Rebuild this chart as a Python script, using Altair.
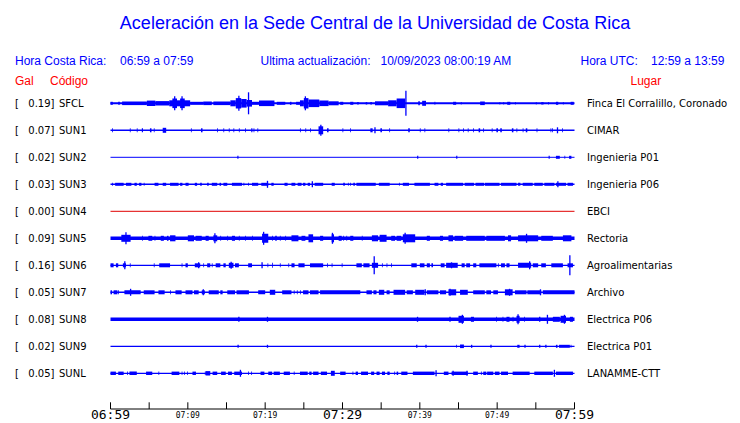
import altair as alt
import pandas as pd

TITLE = "Aceleración en la Sede Central de la Universidad de Costa Rica"
codes = ["SFCL", "SUN1", "SUN2", "SUN3", "SUN4", "SUN5", "SUN6", "SUN7", "SUN8", "SUN9", "SUNL"]
gal = ["0.19", "0.07", "0.02", "0.03", "0.00", "0.09", "0.16", "0.05", "0.08", "0.02", "0.05"]
places = ["Finca El Corralillo, Coronado", "CIMAR", "Ingenieria P01", "Ingenieria P06", "EBCI",
          "Rectoria", "Agroalimentarias", "Archivo", "Electrica P06", "Electrica P01", "LANAMME-CTT"]

# time axis (minutes after 06:59)
tick_minutes = [0, 5, 10, 15, 20, 25, 30, 35, 40, 45, 50, 55, 60]
label_minutes = [0, 10, 20, 30, 40, 50, 60]
tick_labels = ["06:59", "07:09", "07:19", "07:29", "07:39", "07:49", "07:59"]
label_big = [True, False, False, True, False, False, True]

# baseline stroke width (px) and default burst half amplitude (px) per trace
base_width = [2, 1.5, 1, 1.5, 1, 3.5, 1.3, 1.5, 3.5, 1.2, 1.3]
default_half = [2, 2, 1.5, 1.5, 0, 2.5, 2, 2, 2.5, 1.5, 1.7]

# bursts: [start_min, end_min, (half amplitude px)]
bursts = {
    "SFCL": [[0.0, 0.3, 1.5], [1.0, 1.2, 1.5], [1.5, 4.7, 1.8], [4.7, 5.8, 2.7], [5.8, 7.6, 2.2],
             [7.6, 10.3, 3.0], [8.0, 8.6, 4.8], [9.0, 9.6, 4.8], [10.3, 12.0, 1.5], [12.0, 13.1, 1.8],
             [13.3, 15.5, 1.8], [15.5, 16.2, 3.0], [16.2, 16.9, 5.2], [16.9, 17.6, 4.3], [17.6, 18.3, 3.3],
             [18.3, 19.2, 1.5], [19.2, 21.2, 2.8], [21.5, 22.6, 1.5], [23.2, 23.4, 1.5], [24.0, 24.5, 1.5],
             [24.5, 25.0, 3.0], [25.0, 25.6, 5.2], [25.6, 27.0, 3.8], [27.0, 28.2, 2.8], [28.2, 29.5, 2],
             [29.7, 30.1, 1.5], [31.0, 31.4, 1.5], [31.9, 32.1, 1.2], [33.0, 33.2, 1.2], [33.6, 33.8, 1.2],
             [34.2, 35.9, 2], [35.9, 37.0, 3.0], [37.0, 38.1, 4.8], [39.8, 40.0, 2], [40.3, 40.8, 2.5],
             [41.9, 42.0, 1.5], [44.3, 44.7, 1.5], [45.3, 45.4, 1.2], [47.8, 48.4, 1.8], [50.3, 50.4, 1.2],
             [50.8, 50.9, 1.2], [51.3, 51.7, 1.5], [52.3, 52.4, 1.2], [55.0, 55.1, 1.2], [55.7, 56.0, 1.2],
             [56.6, 56.7, 1.2], [57.6, 57.9, 1.5], [58.5, 58.6, 1.2], [59.5, 59.9, 1.5]],
    "SUN1": [[0.2, 0.3], [2.5, 2.6], [3.4, 3.5], [4.05, 4.2], [5.1, 5.3], [5.6, 5.7], [6.75, 7.2, 2.5],
             [10.4, 10.5], [11.7, 11.9], [13.8, 13.9], [14.6, 14.7], [15.3, 15.4], [15.9, 16.0], [16.6, 16.7],
             [17.4, 17.5], [18.2, 18.35], [18.5, 18.6], [19.0, 19.1], [24.5, 24.6], [25.2, 25.3], [25.8, 25.9],
             [26.9, 27.5, 4], [28.0, 28.2], [30.0, 30.1], [31.0, 31.1], [33.6, 33.9], [34.9, 35.1],
             [36.05, 36.15], [38.5, 38.7], [40.0, 40.1], [40.6, 40.7], [43.7, 43.8], [45.0, 45.1], [45.6, 45.7],
             [46.2, 46.3], [46.9, 47.0], [47.6, 47.8], [48.2, 48.3], [49.3, 49.4], [49.9, 50.1], [50.4, 50.6],
             [51.9, 52.1], [52.5, 52.6], [53.3, 53.4], [53.7, 53.9], [55.1, 55.2], [56.9, 57.0], [57.1, 57.2],
             [58.4, 58.5]],
    "SUN2": [[16.4, 16.55], [39.65, 39.8], [44.7, 44.85], [56.65, 56.8], [57.6, 58.1], [58.7, 58.8],
             [59.3, 59.6]],
    "SUN3": [[0.2, 0.3], [0.6, 1.7], [2.0, 2.7], [3.1, 3.4], [3.7, 4.0], [4.3, 4.4], [5.7, 6.2], [6.75, 7.2],
             [7.7, 8.8], [9.0, 9.3], [9.7, 10.1], [10.9, 11.2], [11.6, 11.8], [12.5, 12.7], [13.1, 13.8],
             [14.1, 14.3], [14.6, 15.1], [15.7, 17.0], [17.2, 17.3], [17.8, 17.9], [18.3, 19.1], [19.5, 20.4],
             [20.8, 21.1], [22.5, 22.9], [23.4, 23.9], [24.2, 24.7], [24.9, 25.2], [25.5, 25.8], [26.4, 27.5],
             [28.6, 29.0], [30.1, 30.3], [30.7, 30.8], [31.0, 31.1], [31.4, 31.6], [31.8, 34.3], [34.7, 36.1],
             [37.3, 37.4], [37.8, 38.6], [39.3, 41.3], [41.9, 42.4], [42.7, 43.0], [43.4, 45.6], [45.8, 47.0],
             [47.2, 48.3], [48.4, 50.3], [50.5, 52.5], [52.7, 53.0], [53.3, 54.6], [54.8, 55.9], [56.1, 57.4],
             [57.6, 58.9], [59.1, 59.8]],
    "SUN4": [],
    "SUN5": [[1.4, 2.6, 3.5], [4.1, 4.2], [4.9, 5.4], [5.7, 5.8], [6.5, 6.9], [7.3, 7.5], [7.7, 8.4, 3],
             [10.0, 10.8, 3], [11.0, 11.8], [12.3, 12.7], [13.3, 13.8, 3], [14.2, 14.3], [15.1, 15.2],
             [15.7, 16.1], [16.6, 16.7], [17.4, 17.5], [18.3, 18.4], [19.6, 20.4, 4.5], [20.9, 21.0],
             [21.3, 21.5], [21.9, 22.0], [22.6, 22.7], [23.4, 24.3, 3], [24.7, 25.2], [25.6, 26.2, 4],
             [27.1, 27.5], [28.6, 28.9, 4], [29.5, 29.9], [30.1, 30.2], [30.5, 30.6], [31.0, 31.4],
             [32.5, 32.6], [33.8, 34.6, 3], [34.8, 35.7, 3.5], [36.3, 36.8], [37.0, 37.6], [37.8, 39.4, 4],
             [40.9, 41.3], [42.6, 43.0], [43.7, 44.3, 3], [44.5, 45.6], [46.0, 48.4], [48.6, 51.0],
             [51.4, 51.8, 3], [52.7, 55.3, 3], [55.7, 57.2], [58.5, 59.6, 3]],
    "SUN6": [[0.0, 0.4], [0.7, 1.0], [1.6, 2.0], [2.5, 2.6], [5.6, 5.7], [6.3, 7.7], [9.2, 9.3], [9.7, 10.0],
             [10.9, 11.6], [12.0, 12.1], [12.5, 12.9], [13.1, 13.2], [13.6, 14.2], [14.6, 14.9],
             [15.3, 15.9, 2.5], [16.1, 16.6], [17.8, 18.3], [20.3, 20.4], [20.9, 21.0, 2.5], [21.9, 22.0],
             [23.0, 23.1], [23.4, 23.8], [24.3, 25.1], [25.8, 27.5], [28.0, 28.1], [28.6, 28.7], [29.9, 30.0],
             [31.8, 32.5], [32.7, 33.5], [33.8, 34.6, 2.5], [35.1, 35.2], [35.7, 35.8], [36.3, 36.4],
             [38.9, 39.6], [40.0, 40.6], [40.9, 41.3], [41.5, 41.7], [42.7, 43.2], [43.4, 44.9, 2.5],
             [45.4, 45.8], [46.0, 46.5], [46.9, 47.3], [47.7, 49.9], [50.1, 50.2], [50.5, 51.0], [51.2, 51.6],
             [52.7, 54.4, 2.5], [54.6, 55.3], [55.7, 56.3], [57.0, 58.5], [59.1, 59.8]],
    "SUN7": [[0.0, 0.2], [0.4, 0.9], [1.0, 1.1], [1.8, 3.9], [4.3, 5.7], [6.2, 7.0], [7.7, 7.8], [8.4, 9.2],
             [9.7, 10.6], [10.8, 11.4], [11.8, 12.2], [12.7, 14.0], [14.2, 14.5], [15.1, 16.1], [16.3, 17.9],
             [19.1, 20.0], [20.6, 21.3, 2.5], [22.2, 23.4], [23.7, 23.8], [24.1, 24.2], [24.5, 24.6],
             [24.9, 25.6], [25.8, 26.9], [27.1, 32.3], [33.1, 33.8], [34.0, 34.4], [34.7, 35.4, 2.5],
             [35.7, 36.1], [36.6, 38.1, 2.5], [38.3, 39.1], [39.4, 40.6, 2.5], [40.9, 42.4], [42.6, 43.4],
             [43.7, 44.7, 3], [45.2, 46.2, 2.5], [46.9, 48.4], [48.6, 49.2], [49.5, 50.1], [51.0, 52.0, 3],
             [52.3, 53.8], [53.9, 55.7], [55.9, 60.0]],
    "SUN8": [[45.0, 45.7, 3.5], [46.6, 47.0], [49.85, 49.95], [50.7, 50.8], [51.2, 51.6], [52.0, 52.1],
             [52.5, 52.9, 3.5], [53.5, 53.6], [57.2, 58.1], [58.2, 58.9, 3.5], [59.4, 59.8]],
    "SUN9": [[44.7, 44.8], [45.2, 45.7, 1.8], [52.6, 52.9], [57.6, 57.8], [58.0, 59.4], [59.5, 59.6]],
    "SUNL": [[0.0, 0.7], [1.0, 1.7], [2.15, 2.25], [2.45, 3.4], [4.6, 5.4], [6.2, 6.3], [7.9, 8.9],
             [9.2, 9.3], [9.5, 9.6], [9.9, 10.0], [10.6, 11.05], [12.2, 12.3], [12.3, 12.9, 2.2], [13.2, 13.8],
             [14.3, 14.9], [15.2, 15.7], [16.0, 17.0], [17.8, 17.9], [18.2, 18.3], [19.4, 19.9], [20.4, 20.9],
             [21.1, 21.9], [22.4, 23.2], [23.7, 23.8], [24.5, 25.5], [25.7, 26.0], [26.2, 26.9], [27.2, 28.0],
             [28.5, 29.0, 2.5], [29.7, 30.4], [31.3, 31.4], [31.7, 32.0], [32.4, 33.3], [33.7, 34.1],
             [34.4, 34.8], [35.1, 35.5], [35.8, 36.1], [36.7, 36.8], [37.0, 37.2], [37.6, 38.4], [39.1, 41.9],
             [43.1, 43.7], [44.1, 46.2], [46.9, 47.5], [47.9, 48.0], [48.2, 48.6], [48.7, 49.5], [49.7, 50.3],
             [50.5, 51.4], [52.0, 54.2], [54.8, 57.2], [57.6, 59.8]],
}

# isolated spikes: [minute, half amplitude px]
spikes = {
    "SFCL": [[8.3, 7], [9.25, 7], [16.6, 7.5], [17.85, 11], [25.2, 7], [38.2, 12.5]],
    "SUN1": [[27.2, 5.5], [34.2, 3], [57.8, 3]],
    "SUN2": [],
    "SUN3": [[20.3, 3.5], [26.1, 3], [57.85, 3]],
    "SUN4": [],
    "SUN5": [[2.0, 6], [13.5, 5], [19.8, 6.5], [28.7, 5.5], [38.1, 5.5], [53.8, 4.5]],
    "SUN6": [[1.85, 4], [11.4, 3], [15.6, 3.5], [19.6, 3], [34.1, 9], [44.1, 3], [54.2, 4], [59.4, 10]],
    "SUN7": [[2.6, 3.5], [12.0, 3], [40.7, 3], [43.9, 3.5], [51.6, 3.5], [55.6, 3]],
    "SUN8": [[16.6, 2.5], [20.3, 2.5], [39.7, 2.5], [43.9, 2.5], [45.5, 4.5], [52.7, 5], [55.5, 2.5],
             [56.5, 4.5], [58.7, 4.5]],
    "SUN9": [[16.5, 1.5], [20.3, 1.5], [39.6, 1.5], [40.8, 1.5], [46.7, 1.5], [49.2, 1.5], [53.6, 1.5],
             [55.5, 1.5], [56.3, 1.5]],
    "SUNL": [[16.8, 3.5], [42.1, 3], [44.3, 2.5], [46.1, 2.5], [57.4, 3.5]],
}

# ---------------- styling / layout ----------------
BLUE = "#0000ff"
RED = "#ff0000"
TRACE_RED = "#e00000"
ROW_PX = 27.0
trace_color = [TRACE_RED if c == "SUN4" else BLUE for c in codes]

XS = alt.Scale(domain=[0, 60], range=[102.5, 566.5], nice=False, zero=False)
YS = alt.Scale(domain=[0, 10], range=[95.3, 365.3], nice=False, zero=False)

base_df = pd.DataFrame({
    "row": list(range(len(codes))),
    "t0": [tick_minutes[0]] * len(codes),
    "t1": [tick_minutes[-1]] * len(codes),
    "w": base_width,
    "color": trace_color,
})

b_rows = []
for i, c in enumerate(codes):
    for b in bursts[c]:
        h = b[2] if len(b) > 2 else default_half[i]
        b_rows.append({"row": i, "t0": b[0], "t1": b[1], "lo": i - h / ROW_PX, "hi": i + h / ROW_PX,
                       "color": trace_color[i]})
burst_df = pd.DataFrame(b_rows)

s_rows = []
for i, c in enumerate(codes):
    for s in spikes[c]:
        s_rows.append({"row": i, "t": s[0], "lo": i - s[1] / ROW_PX, "hi": i + s[1] / ROW_PX,
                       "color": trace_color[i]})
spike_df = pd.DataFrame(s_rows)

lab_df = pd.DataFrame({
    "row": list(range(len(codes))),
    "gal": [g + "]" for g in gal],
    "code": codes,
    "place": places,
})

tick_df = pd.DataFrame({"m": tick_minutes})
tl_df = pd.DataFrame({"m": label_minutes, "lab": tick_labels, "big": label_big})

baseline = alt.Chart(base_df).mark_rule().encode(
    x=alt.X("t0:Q", scale=XS, axis=None), x2="t1:Q",
    y=alt.Y("row:Q", scale=YS, axis=None),
    color=alt.Color("color:N", scale=None),
    strokeWidth=alt.StrokeWidth("w:Q", scale=None),
)

burst_layer = alt.Chart(burst_df).mark_rect().encode(
    x=alt.X("t0:Q", scale=XS, axis=None), x2="t1:Q",
    y=alt.Y("lo:Q", scale=YS, axis=None), y2="hi:Q",
    color=alt.Color("color:N", scale=None),
)

spike_layer = alt.Chart(spike_df).mark_rule(strokeWidth=1.3).encode(
    x=alt.X("t:Q", scale=XS, axis=None),
    y=alt.Y("lo:Q", scale=YS, axis=None), y2="hi:Q",
    color=alt.Color("color:N", scale=None),
)

LF = "DejaVu Sans"
LFS = 10
bracket = alt.Chart(lab_df).mark_text(align="left", baseline="middle", font=LF, fontSize=LFS,
                                      color="black", dy=1).encode(
    x=alt.value(7), y=alt.Y("row:Q", scale=YS, axis=None), text=alt.value("["))
gal_t = alt.Chart(lab_df).mark_text(align="right", baseline="middle", font=LF, fontSize=LFS,
                                    color="black", dy=1).encode(
    x=alt.value(46.5), y=alt.Y("row:Q", scale=YS, axis=None), text="gal:N")
code_t = alt.Chart(lab_df).mark_text(align="left", baseline="middle", font=LF, fontSize=LFS,
                                     color="black", dy=1).encode(
    x=alt.value(51), y=alt.Y("row:Q", scale=YS, axis=None), text="code:N")
place_t = alt.Chart(lab_df).mark_text(align="left", baseline="middle", font=LF, fontSize=LFS,
                                      color="black", dy=1).encode(
    x=alt.value(579), y=alt.Y("row:Q", scale=YS, axis=None), text="place:N")

AF = "DejaVu Sans Mono"
axis_line = alt.Chart(tick_df).mark_rule(color="black", strokeWidth=1).encode(
    x=alt.X("min(m):Q", scale=XS, axis=None), x2="max(m):Q", y=alt.value(401))
ticks = alt.Chart(tick_df).mark_rule(color="black", strokeWidth=1).encode(
    x=alt.X("m:Q", scale=XS, axis=None), y=alt.value(394.3), y2=alt.value(401))
big_labels = alt.Chart(tl_df).transform_filter("datum.big").mark_text(
    align="center", baseline="alphabetic", font=AF, fontSize=13, color="black").encode(
    x=alt.X("m:Q", scale=XS, axis=None), y=alt.value(411), text="lab:N")
small_labels = alt.Chart(tl_df).transform_filter("!datum.big").mark_text(
    align="center", baseline="alphabetic", font=AF, fontSize=8, color="black").encode(
    x=alt.X("m:Q", scale=XS, axis=None), y=alt.value(409.5), text="lab:N")


def txt(s, x, y, size, color, align="left", font="Liberation Sans"):
    return alt.Chart(pd.DataFrame({"t": [s]})).mark_text(
        align=align, baseline="alphabetic", font=font, fontSize=size, color=color).encode(
        x=alt.value(x), y=alt.value(y), text="t:N")


headers = [
    txt(TITLE, 367, 20.5, 18, BLUE, align="center"),
    txt("Hora Costa Rica:", 7, 57.3, 12, BLUE),
    txt("06:59 a 07:59", 112, 57.3, 12, BLUE),
    txt("Ultima actualización:", 252.5, 57.3, 12, BLUE),
    txt("10/09/2023 08:00:19 AM", 372.5, 57.3, 12, BLUE),
    txt("Hora UTC:", 572.5, 57.3, 12, BLUE),
    txt("12:59 a 13:59", 643, 57.3, 12, BLUE),
    txt("Gal", 7, 76.6, 12, RED),
    txt("Código", 42, 76.6, 12, RED),
    txt("Lugar", 622.5, 76.6, 12, RED),
]

chart = alt.layer(
    baseline, burst_layer, spike_layer,
    bracket, gal_t, code_t, place_t,
    axis_line, ticks, big_labels, small_labels,
    *headers,
).properties(
    width=724, height=415, padding=0, autosize="none", background="white"
).configure_view(stroke=None)

chart.save("out.html", embed_options={"renderer": "svg", "actions": False})
